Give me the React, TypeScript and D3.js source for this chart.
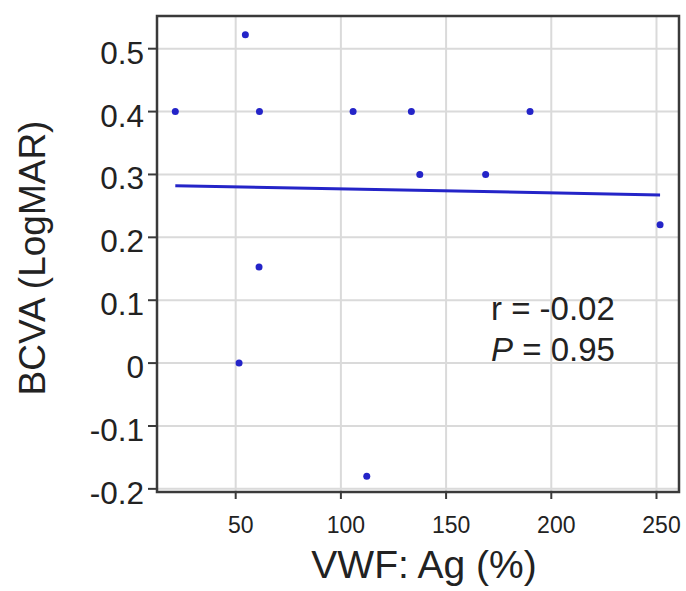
import React from "react";
import * as d3 from "d3";

const vwfAg = [21.3, 54.6, 61.3, 105.8, 133.5, 189.9, 137.5, 168.8, 251.7, 61.1, 51.6, 112.3];
const bcva = [0.4, 0.522, 0.4, 0.4, 0.4, 0.4, 0.3, 0.3, 0.22, 0.153, 0.0, -0.18];
const xTicks = [50, 100, 150, 200, 250];
const yTicks = [-0.2, -0.1, 0, 0.1, 0.2, 0.3, 0.4, 0.5];
const yTickLabels = ["-0.2", "-0.1", "0", "0.1", "0.2", "0.3", "0.4", "0.5"];
const xDomain = [12.6, 260.7];
const yDomain = [-0.205, 0.552];
const statR = "r = -0.02";
const statP = "0.95";

const W = 686, H = 591;
const L = 157, R = 679, T = 16, B = 492;
const font = "'Liberation Sans', Arial, Helvetica, sans-serif";
const blue = "#2424c8";

export default function App() {
  const x = d3.scaleLinear().domain(xDomain).range([L, R]);
  const y = d3.scaleLinear().domain(yDomain).range([B, T]);

  // least squares fit
  const mx = d3.mean(vwfAg)!;
  const my = d3.mean(bcva)!;
  let sxy = 0, sxx = 0;
  vwfAg.forEach((v, i) => { sxy += (v - mx) * (bcva[i] - my); sxx += (v - mx) * (v - mx); });
  const slope = sxy / sxx;
  const icpt = my - slope * mx;
  const [x0, x1] = d3.extent(vwfAg) as [number, number];
  const line = d3.line<number>().x((d) => x(d)).y((d) => y(icpt + slope * d));

  return (
    <svg width={W} height={H} style={{ position: "absolute", left: 0, top: 0 }} xmlns="http://www.w3.org/2000/svg">
      <rect x={0} y={0} width={W} height={H} fill="#fff" />
      {/* grid */}
      {xTicks.map((t) => (
        <line key={"gx" + t} x1={x(t)} x2={x(t)} y1={T} y2={B} stroke="#dadada" strokeWidth={2} />
      ))}
      {yTicks.map((t) => (
        <line key={"gy" + t} x1={L} x2={R} y1={y(t)} y2={y(t)} stroke="#dadada" strokeWidth={2} />
      ))}
      {/* frame */}
      <rect x={L} y={T} width={R - L} height={B - T} fill="none" stroke="#3a3a3a" strokeWidth={2.5} />
      {/* ticks */}
      {yTicks.map((t, i) => (
        <g key={"ty" + t}>
          <line x1={L - 9} x2={L} y1={y(t)} y2={y(t)} stroke="#3a3a3a" strokeWidth={2} />
          <text x={144} y={y(t) + 15} textAnchor="end" fontFamily={font} fontSize={31.5} fill="#222">
            {yTickLabels[i]}
          </text>
        </g>
      ))}
      {xTicks.map((t) => (
        <g key={"tx" + t}>
          <line x1={x(t)} x2={x(t)} y1={B} y2={B + 7} stroke="#3a3a3a" strokeWidth={2} />
          <text x={x(t) + 5} y={533} textAnchor="middle" fontFamily={font} fontSize={23} fill="#222">
            {t}
          </text>
        </g>
      ))}
      {/* regression line */}
      <path d={line([x0, x1]) || ""} fill="none" stroke={blue} strokeWidth={3} />
      {/* points */}
      {vwfAg.map((v, i) => (
        <circle key={"p" + i} cx={x(v)} cy={y(bcva[i])} r={3.5} fill={blue} />
      ))}
      {/* stats */}
      <text x={491} y={320} fontFamily={font} fontSize={33} fill="#222">{statR}</text>
      <text x={491} y={361} fontFamily={font} fontSize={33} fill="#222">
        <tspan fontStyle="italic">P</tspan>
        <tspan> = {statP}</tspan>
      </text>
      {/* axis titles */}
      <text x={424} y={578} textAnchor="middle" fontFamily={font} fontSize={39} fill="#222">VWF: Ag (%)</text>
      <text transform={`translate(45,258) rotate(-90)`} textAnchor="middle" fontFamily={font} fontSize={37} fill="#222">
        BCVA (LogMAR)
      </text>
    </svg>
  );
}
